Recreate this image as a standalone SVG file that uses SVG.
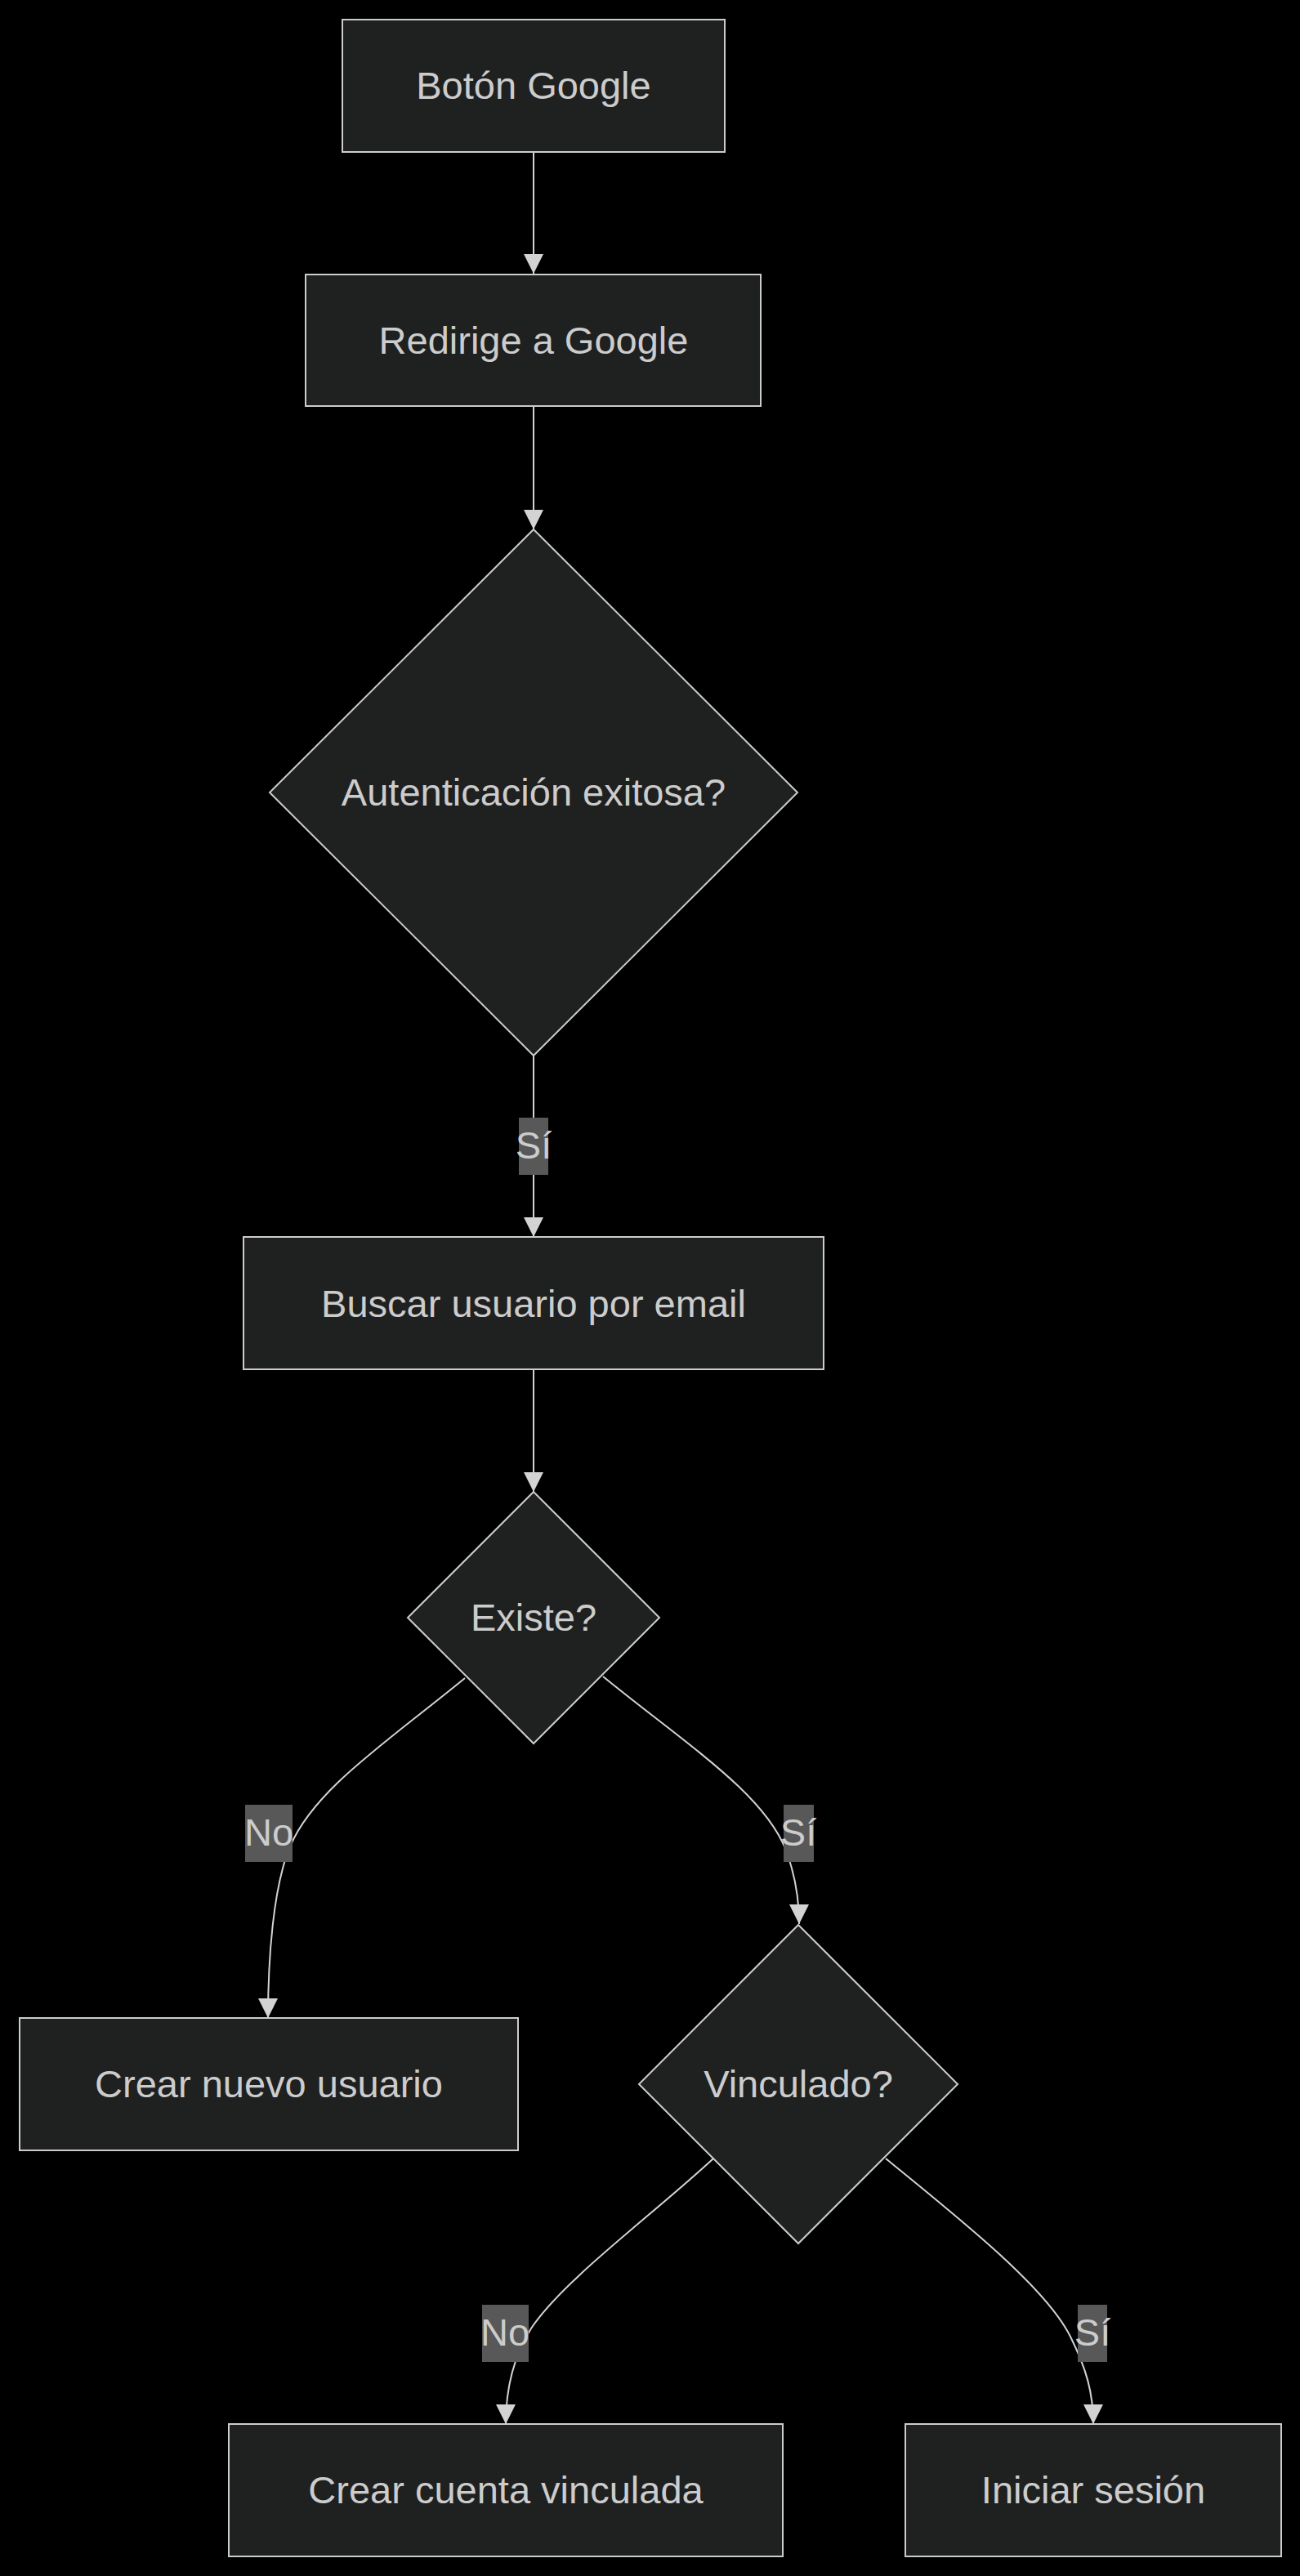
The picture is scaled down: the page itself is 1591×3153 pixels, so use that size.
<svg xmlns="http://www.w3.org/2000/svg" width="1591" height="3153" viewBox="0 0 1591 3153">
<style>
.node rect, .node polygon { fill: #1f2020; stroke: #cccccc; stroke-width: 2; }
.label { fill: #cccccc; font-family: "Liberation Sans", Arial, sans-serif; font-size: 47px; text-anchor: middle; }
.edge { fill: none; stroke: #d3d3d3; stroke-width: 2; }
.elbg { fill: #585858; }
</style>
<defs>
<marker id="arrow" viewBox="0 0 10 10" refX="10" refY="5" markerUnits="userSpaceOnUse" markerWidth="24" markerHeight="24" orient="auto">
<path d="M0,0 L10,5 L0,10 z" fill="#d3d3d3"/>
</marker>
</defs>
<rect x="0" y="0" width="1591" height="3153" fill="#000000"/>
<g id="edges">
<path class="edge" d="M653,187 L653,335" marker-end="url(#arrow)"/>
<path class="edge" d="M653,497 L653,648" marker-end="url(#arrow)"/>
<path class="edge" d="M653,1292 L653,1514" marker-end="url(#arrow)"/>
<path class="edge" d="M653,1676 L653,1826" marker-end="url(#arrow)"/>
<path class="edge" d="M569,2054 C470,2135 385,2190 355,2260 C334,2310 328,2400 328,2470" marker-end="url(#arrow)"/>
<path class="edge" d="M738,2052 C840,2135 935,2195 962,2265 C975,2300 978,2330 978,2355" marker-end="url(#arrow)"/>
<path class="edge" d="M873,2642 C800,2710 690,2790 650,2850 C625,2890 619,2930 619,2967" marker-end="url(#arrow)"/>
<path class="edge" d="M1084,2642 C1180,2720 1280,2800 1310,2860 C1330,2900 1338,2930 1338,2967" marker-end="url(#arrow)"/>
<g id="edge-labels">
<rect class="elbg" x="635" y="1368" width="36" height="70"/>
<text class="label" x="653" y="1418">Sí</text>
<rect class="elbg" x="300" y="2209" width="58" height="70"/>
<text class="label" x="329" y="2259">No</text>
<rect class="elbg" x="959" y="2209" width="37" height="70"/>
<text class="label" x="977" y="2259">Sí</text>
<rect class="elbg" x="590" y="2821" width="57" height="70"/>
<text class="label" x="618" y="2871">No</text>
<rect class="elbg" x="1319" y="2821" width="36" height="70"/>
<text class="label" x="1337" y="2871">Sí</text>
</g>
</g>
<g id="node-boton" class="node">
<rect x="419" y="24" width="468" height="162"/>
<text class="label" x="653" y="121">Botón Google</text>
</g>
<g id="node-redirige" class="node">
<rect x="374" y="336" width="557" height="161"/>
<text class="label" x="653" y="433">Redirige a Google</text>
</g>
<g id="node-autenticacion" class="node">
<polygon points="653,648 976,970 653,1292 330,970"/>
<text class="label" x="653" y="986">Autenticación exitosa?</text>
</g>
<g id="node-buscar" class="node">
<rect x="298" y="1514" width="710" height="162"/>
<text class="label" x="653" y="1612">Buscar usuario por email</text>
</g>
<g id="node-existe" class="node">
<polygon points="653,1826 807,1980 653,2134 499,1980"/>
<text class="label" x="653" y="1996">Existe?</text>
</g>
<g id="node-crear-usuario" class="node">
<rect x="24" y="2470" width="610" height="162"/>
<text class="label" x="329" y="2567">Crear nuevo usuario</text>
</g>
<g id="node-vinculado" class="node">
<polygon points="977,2356 1172,2551 977,2746 782,2551"/>
<text class="label" x="977" y="2567">Vinculado?</text>
</g>
<g id="node-crear-cuenta" class="node">
<rect x="280" y="2967" width="678" height="162"/>
<text class="label" x="619" y="3064">Crear cuenta vinculada</text>
</g>
<g id="node-iniciar" class="node">
<rect x="1108" y="2967" width="460" height="162"/>
<text class="label" x="1338" y="3064">Iniciar sesión</text>
</g>
</svg>
